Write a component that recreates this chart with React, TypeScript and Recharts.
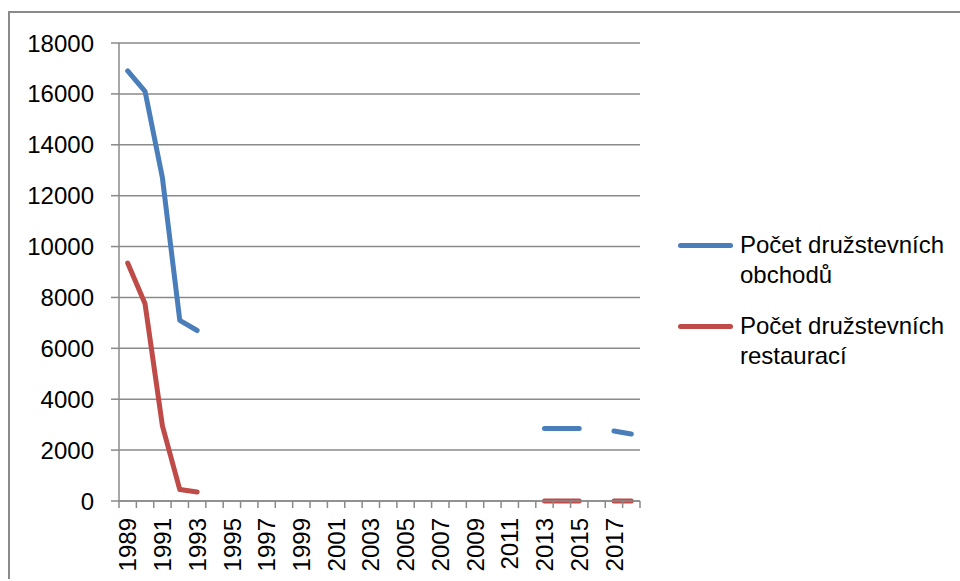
import { LineChart, Line, XAxis, YAxis, CartesianGrid } from 'recharts';

const years = [
  '1989', '1990', '1991', '1992', '1993', '1994', '1995', '1996', '1997', '1998',
  '1999', '2000', '2001', '2002', '2003', '2004', '2005', '2006', '2007', '2008',
  '2009', '2010', '2011', '2012', '2013', '2014', '2015', '2016', '2017', '2018',
];

const shops: (number | null)[] = [
  16900, 16100, 12700, 7100, 6700, null, null, null, null, null,
  null, null, null, null, null, null, null, null, null, null,
  null, null, null, null, 2850, 2850, 2850, null, 2750, 2630,
];

const restaurants: (number | null)[] = [
  9350, 7750, 2950, 450, 350, null, null, null, null, null,
  null, null, null, null, null, null, null, null, null, null,
  null, null, null, null, 0, 0, 0, null, 0, 0,
];

const yTicks = [0, 2000, 4000, 6000, 8000, 10000, 12000, 14000, 16000, 18000];

const series = [
  { key: 'shops', name: ['Počet družstevních', 'obchodů'], color: '#4a7ebb' },
  { key: 'restaurants', name: ['Počet družstevních', 'restaurací'], color: '#be4b48' },
];

const data = years.map((year, i) => ({
  year,
  shops: shops[i],
  restaurants: restaurants[i],
}));

const FONT = '"Liberation Sans", Arial, sans-serif';
const GRID = '#8a8a8a';

// Excel-style: tick marks between categories, label every second year
function YearTick({ x, y, payload, index }: any) {
  const half = payload.offset || 0;
  const last = index === years.length - 1;
  return (
    <g>
      <line x1={x - half} x2={x - half} y1={y - 17} y2={y - 10} stroke={GRID} strokeWidth={1.5} />
      {last && <line x1={x + half} x2={x + half} y1={y - 17} y2={y - 10} stroke={GRID} strokeWidth={1.5} />}
      {index % 2 === 0 && (
        <text
          transform={`translate(${x},${y}) rotate(-90)`}
          textAnchor="end"
          dy="0.36em"
          fill="#000"
          fontSize={24}
          fontFamily={FONT}
        >
          {payload.value}
        </text>
      )}
    </g>
  );
}

function LegendBox() {
  return (
    <div style={{ position: 'absolute', left: 668, top: 217, fontFamily: FONT, fontSize: 24, color: '#000' }}>
      {series.map((s, i) => (
        <div key={s.key} style={{ display: 'flex', alignItems: 'flex-start', marginBottom: i === 0 ? 21 : 0 }}>
          <div
            style={{
              width: 55,
              height: 5,
              borderRadius: 3,
              background: s.color,
              marginTop: 13,
              marginRight: 7,
            }}
          />
          <div style={{ lineHeight: '30px' }}>
            {s.name.map((t) => (
              <div key={t}>{t}</div>
            ))}
          </div>
        </div>
      ))}
    </div>
  );
}

export default function App() {
  return (
    <div
      style={{
        position: 'absolute',
        left: 8,
        top: 11,
        width: 950,
        height: 566,
        borderTop: `2px solid ${GRID}`,
        borderLeft: `2px solid ${GRID}`,
        background: '#fff',
      }}
    >
      <LineChart
        width={940}
        height={566}
        data={data}
        margin={{ top: 30, right: 310, left: 0, bottom: 0 }}
        style={{ fontFamily: FONT }}
      >
        <CartesianGrid vertical={false} stroke={GRID} strokeWidth={1.5} />
        <XAxis
          dataKey="year"
          scale="band"
          interval={0}
          tickLine={false}
          stroke={GRID}
          strokeWidth={1.5}
          tickSize={7}
          tickMargin={10}
          height={78}
          tick={<YearTick />}
        />
        <YAxis
          domain={[0, 18000]}
          ticks={yTicks}
          interval={0}
          width={109}
          tickSize={8}
          tickMargin={17}
          stroke={GRID}
          strokeWidth={1.5}
          tick={{ fill: '#000', fontSize: 24 }}
        />
        {series.map((s) => (
          <Line
            key={s.key}
            type="linear"
            dataKey={s.key}
            name={s.name.join(' ')}
            stroke={s.color}
            strokeWidth={5}
            strokeLinecap="round"
            strokeLinejoin="round"
            dot={false}
            activeDot={false}
            isAnimationActive={false}
          />
        ))}
      </LineChart>
      <LegendBox />
    </div>
  );
}
